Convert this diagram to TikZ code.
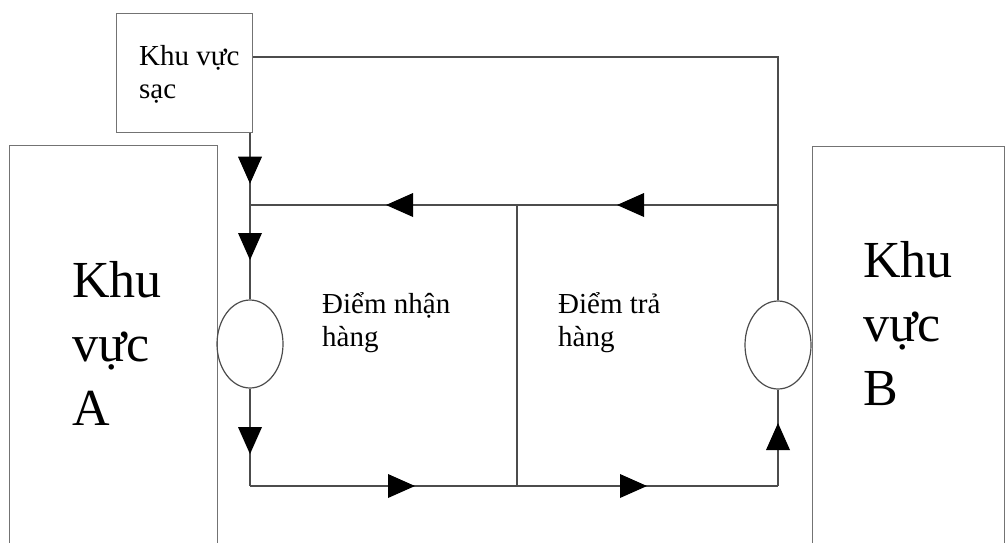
\documentclass[tikz,border=0pt]{standalone}
\usepackage{fontspec}
\setmainfont{Liberation Serif}
\usetikzlibrary{shapes.geometric,decorations.markings}
\begin{document}
\begin{tikzpicture}[x=1pt,y=-1pt,
  frame/.style={draw=black!55,line width=1.2pt,inner sep=0pt,anchor=north west},
  wire/.style={draw=black!70,line width=1.3pt},
  loop/.style={draw=black!70,line width=1.2pt,ellipse,minimum width=66pt,minimum height=88pt,inner sep=0pt},
  flow/.style={wire,postaction={decorate,decoration={markings,
      mark=at position #1 with {\fill[black] (13.5pt,0pt)--(-13.5pt,12pt)--(-13.5pt,-12pt)--cycle;}}}},
  smalltxt/.style={font=\fontsize{29}{33}\selectfont,align=left,inner sep=0pt,anchor=base west},
  bigtxt/.style={font=\fontsize{52}{64}\selectfont,align=left,inner sep=0pt,anchor=base west},
]
\useasboundingbox (0,0) rectangle (1006,542);
\clip (0,0) rectangle (1006,542);

% areas
\node[frame,minimum width=136pt,minimum height=119pt] (charge) at (116,13) {};
\node[frame,minimum width=208pt,minimum height=420pt] (areaA) at (9,145) {};
\node[frame,minimum width=192pt,minimum height=420pt] (areaB) at (812,146) {};

% labels (anchored at the baseline of their last line)
\node[smalltxt] (chargetxt) at (139,98) {Khu vực\\sạc};
\node[bigtxt] (areaAtxt) at (72,425) {Khu\\vực\\A};
\node[bigtxt] (areaBtxt) at (863,405) {Khu\\vực\\B};

% pick-up / drop-off stations
\node[loop] (la) at (250,344) {};
\node[loop] (lb) at (778,345) {};

\node[smalltxt] (pick) at (322,346) {Điểm nhận\\hàng};
\node[smalltxt] (drop) at (558,346) {Điểm trả\\hàng};

% junctions of the track
\coordinate (j1) at (250,205);
\coordinate (mt) at (517,205);
\coordinate (tr) at (778,205);
\coordinate (corner) at (778,57);
\coordinate (bl) at (250,486);
\coordinate (mb) at (517,486);
\coordinate (br) at (778,486);

% track with flow directions
\draw[flow=37pt] (j1 |- charge.south) -- (j1);
\draw[flow=41.5pt] (j1) -- (la.north);
\draw[flow=52pt] (la.south) -- (bl);
\draw[flow=151.5pt] (bl) -- (mb);
\draw[flow=116.5pt] (mb) -- (br);
\draw[flow=49.5pt] (br) -- (lb.south);
\draw[wire] (lb.north) -- (tr);
\draw[flow=147.5pt] (tr) -- (mt);
\draw[flow=117.5pt] (mt) -- (j1);
\draw[wire] (mt) -- (mb);
\draw[wire] (charge.east |- corner) -- (corner) -- (tr);
\end{tikzpicture}
\end{document}
